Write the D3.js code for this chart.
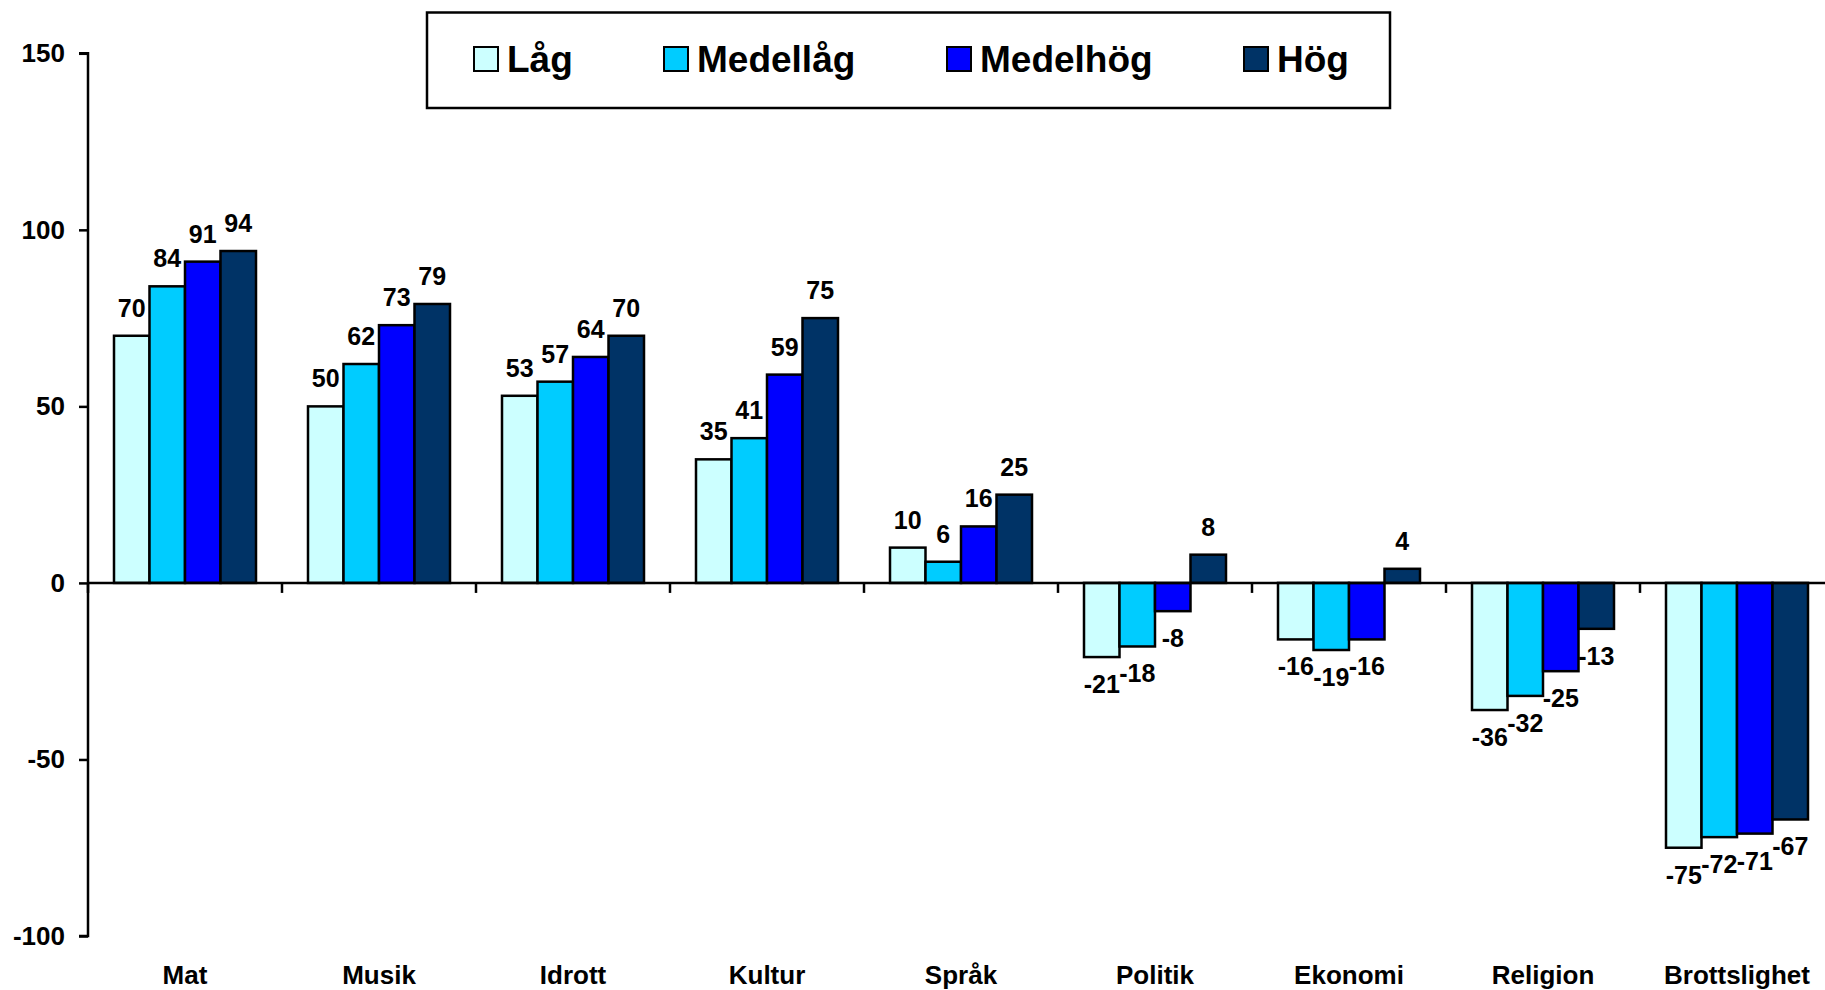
<!DOCTYPE html>
<html>
<head>
<meta charset="utf-8">
<script src="https://cdn.jsdelivr.net/npm/d3@7"></script>
<style>
  html, body { margin: 0; padding: 0; background: #fff; }
  svg { display: block; font-family: Arial, "Liberation Sans", sans-serif; font-weight: bold; }
</style>
</head>
<body>
<svg id="chart" width="1825" height="990"></svg>
<script>
const categories = ["Mat", "Musik", "Idrott", "Kultur", "Språk", "Politik", "Ekonomi", "Religion", "Brottslighet"];
const seriesNames = ["Låg", "Medellåg", "Medelhög", "Hög"];
const lag      = [70, 50, 53, 35, 10, -21, -16, -36, -75];
const medellag = [84, 62, 57, 41, 6, -18, -19, -32, -72];
const medelhog = [91, 73, 64, 59, 16, -8, -16, -25, -71];
const hog      = [94, 79, 70, 75, 25, 8, 4, -13, -67];
const seriesValues = [lag, medellag, medelhog, hog];
const colors = ["#CCFFFF", "#00CCFF", "#0000FF", "#003366"];
const yTicks = [150, 100, 50, 0, -50, -100];

const svg = d3.select("#chart");

const x0 = d3.scaleBand().domain(categories).range([88, 88 + 9 * 194]).paddingInner(0).paddingOuter(0);
const x1 = d3.scaleBand().domain(seriesNames).range([26, 168]).padding(0);
const y = d3.scaleLinear().domain([-100, 150]).range([936, 53.3]);

// bars
const data = [];
categories.forEach((c, i) => {
  seriesNames.forEach((s, j) => {
    data.push({ cat: c, series: s, value: seriesValues[j][i], color: colors[j] });
  });
});

svg.append("g").selectAll("rect").data(data).join("rect")
  .attr("x", d => x0(d.cat) + x1(d.series))
  .attr("width", x1.bandwidth())
  .attr("y", d => y(Math.max(0, d.value)))
  .attr("height", d => Math.abs(y(d.value) - y(0)))
  .attr("fill", d => d.color)
  .attr("stroke", "#000")
  .attr("stroke-width", 2.5);

// data labels
svg.append("g").selectAll("text").data(data).join("text")
  .attr("x", d => x0(d.cat) + x1(d.series) + x1.bandwidth() / 2)
  .attr("y", d => d.value >= 0 ? y(d.value) - 19 : y(d.value) + 36)
  .attr("text-anchor", "middle")
  .attr("font-size", 25)
  .attr("fill", "#000")
  .text(d => String(d.value));

// y axis
const yAxis = d3.axisLeft(y).tickValues(yTicks).tickSize(9).tickPadding(14).tickFormat(d => String(d));
const gy = svg.append("g").attr("transform", "translate(88,0)").call(yAxis);
gy.select(".domain").attr("stroke", "#000").attr("stroke-width", 2.5).attr("d", `M-9,${y(150)}H0V${y(-100)}H-9`);
gy.selectAll(".tick line").attr("stroke", "#000").attr("stroke-width", 2.5);
gy.selectAll(".tick text").attr("font-size", 26).attr("font-weight", "bold").attr("fill", "#000")
  .attr("font-family", "Arial, 'Liberation Sans', sans-serif");

// x axis line at zero
const gx = svg.append("g");
gx.append("line")
  .attr("x1", 88).attr("x2", 1825)
  .attr("y1", y(0)).attr("y2", y(0))
  .attr("stroke", "#000").attr("stroke-width", 2.5);
const boundaries = categories.map(c => x0(c)).concat([x0.range()[1]]);
gx.selectAll("line.tk").data(boundaries).join("line")
  .attr("class", "tk")
  .attr("x1", d => d).attr("x2", d => d)
  .attr("y1", y(0)).attr("y2", y(0) + 10)
  .attr("stroke", "#000").attr("stroke-width", 2.5);

// category labels
svg.append("g").selectAll("text").data(categories).join("text")
  .attr("x", d => x0(d) + x0.bandwidth() / 2)
  .attr("y", 984)
  .attr("text-anchor", "middle")
  .attr("font-size", 26)
  .attr("fill", "#000")
  .text(d => d);

// legend
const legend = svg.append("g");
legend.append("rect")
  .attr("x", 427).attr("y", 12.5).attr("width", 963).attr("height", 95.5)
  .attr("fill", "#fff").attr("stroke", "#000").attr("stroke-width", 2.5);
const legendX = [474, 664, 947, 1244];
const items = legend.selectAll("g.item").data(seriesNames).join("g")
  .attr("class", "item")
  .attr("transform", (d, i) => `translate(${legendX[i]},0)`);
items.append("rect")
  .attr("x", 0).attr("y", 47).attr("width", 24).attr("height", 24)
  .attr("fill", (d, i) => colors[i]).attr("stroke", "#000").attr("stroke-width", 2);
items.append("text")
  .attr("x", 33).attr("y", 72)
  .attr("font-size", 37)
  .attr("fill", "#000")
  .text(d => d);
</script>
</body>
</html>
